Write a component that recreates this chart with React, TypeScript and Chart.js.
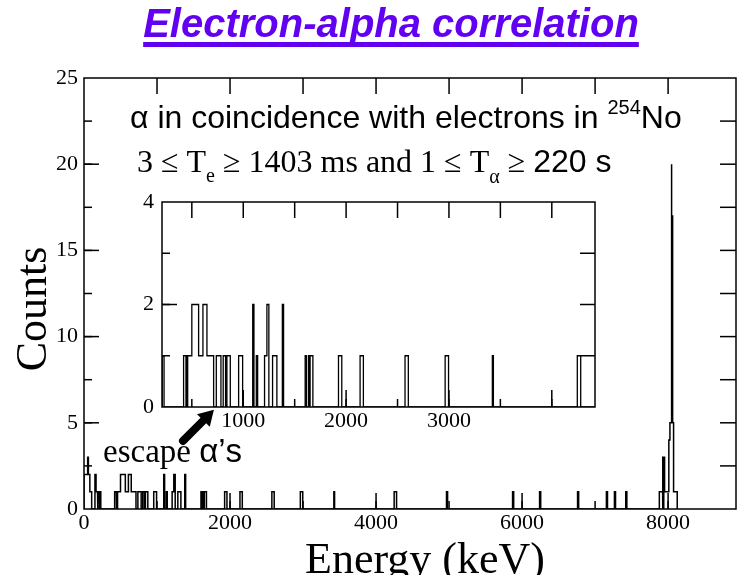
import { useEffect, useRef } from 'react';
import { Chart, registerables } from 'chart.js';

Chart.register(...registerables);

// ---- Data: histogram bins (keV) and their counts ----
const binLow = [
  0, 50, 60, 80, 150, 165, 190, 212,
  420, 448, 462, 500, 566, 608, 647, 738, 805, 841, 955,
  1092, 1127, 1207, 1230, 1285, 1380,
  1602, 1635, 1650, 1926, 2136, 2573, 2963, 3422, 4248,
  4965, 5870, 6240, 6760, 7155, 7265, 7420,
  7880, 7928, 7942, 7952, 8010, 8025, 8040, 8052, 8062, 8075,
];
const binHigh = [
  50, 60, 80, 105, 165, 185, 208, 230,
  443, 455, 500, 566, 608, 647, 712, 783, 828, 874, 994,
  1104, 1140, 1230, 1249, 1327, 1392,
  1615, 1645, 1677, 1958, 2168, 2605, 2996, 3432, 4281,
  4980, 5885, 6255, 6775, 7170, 7280, 7435,
  7925, 7938, 7952, 8010, 8025, 8040, 8052, 8062, 8075, 8125,
];
const binCount = [
  2, 3, 2, 1, 2, 1, 1, 1,
  1, 1, 1, 2, 1, 2, 1, 1, 1, 1, 1,
  2, 1, 1, 2, 1, 2,
  1, 1, 1, 1, 1, 1, 1, 1, 1,
  1, 1, 1, 1, 1, 1, 1,
  1, 3, 3, 1, 4, 5, 20, 17, 5, 1,
];

// ---- Tick labels ----
const mainXTicks = [0, 2000, 4000, 6000, 8000];
const mainYTicks = [0, 5, 10, 15, 20, 25];
const insetXTicks = [1000, 2000, 3000];
const insetYTicks = [0, 2, 4];

// ---- Annotation texts ----
const titleText = 'Electron-alpha correlation';
const yTitle = 'Counts';
const xTitle = 'Energy (keV)';
const escapeWord = 'escape ';
const escapeAlpha = 'α’s';

const SERIF = "'Liberation Serif', 'Times New Roman', serif";
const SANS = "'Liberation Sans', Arial, Helvetica, sans-serif";
const TITLE_COLOR = '#6200f2';

type Pt = { x: number; y: number };

function stepOutline(lo: number[], hi: number[], cnt: number[]): Pt[] {
  const pts: Pt[] = [];
  let prevEnd: number | null = null;
  for (let i = 0; i < lo.length; i++) {
    if (prevEnd === null || Math.abs(lo[i] - prevEnd) > 0.5) {
      if (prevEnd !== null) pts.push({ x: prevEnd, y: 0 });
      pts.push({ x: lo[i], y: 0 });
    }
    pts.push({ x: lo[i], y: cnt[i] });
    pts.push({ x: hi[i], y: cnt[i] });
    prevEnd = hi[i];
  }
  if (prevEnd !== null) pts.push({ x: prevEnd, y: 0 });
  return pts;
}

type TickSpec = [number, number][]; // [step, length]
type FrameSpec = { top: TickSpec; bottom: TickSpec; left: TickSpec; right: TickSpec };

function framePlugin(id: string, spec: FrameSpec) {
  return {
    id,
    afterDatasetsDraw(chart: any) {
      const { ctx, chartArea: a, scales } = chart;
      const xs = scales.x;
      const ys = scales.y;
      ctx.save();
      ctx.strokeStyle = '#000';
      ctx.lineWidth = 1.5;
      ctx.lineCap = 'butt';
      ctx.strokeRect(a.left, a.top, a.right - a.left, a.bottom - a.top);
      const eps = 1e-6;
      const hTicks = (marks: TickSpec, yEdge: number, dir: number) => {
        for (const [step, len] of marks) {
          for (let k = Math.ceil(xs.min / step); k * step <= xs.max + eps; k++) {
            const v = k * step;
            if (v <= xs.min + eps || v >= xs.max - eps) continue;
            const px = xs.getPixelForValue(v);
            ctx.beginPath();
            ctx.moveTo(px, yEdge);
            ctx.lineTo(px, yEdge + dir * len);
            ctx.stroke();
          }
        }
      };
      const vTicks = (marks: TickSpec, xEdge: number, dir: number) => {
        for (const [step, len] of marks) {
          for (let k = Math.ceil(ys.min / step); k * step <= ys.max + eps; k++) {
            const v = k * step;
            if (v <= ys.min + eps || v >= ys.max - eps) continue;
            const py = ys.getPixelForValue(v);
            ctx.beginPath();
            ctx.moveTo(xEdge, py);
            ctx.lineTo(xEdge + dir * len, py);
            ctx.stroke();
          }
        }
      };
      hTicks(spec.top, a.top, 1);
      hTicks(spec.bottom, a.bottom, -1);
      vTicks(spec.left, a.left, 1);
      vTicks(spec.right, a.right, -1);
      ctx.restore();
    },
  };
}

type Run = { text: string; font: string; dy?: number };
function drawRuns(ctx: CanvasRenderingContext2D, x: number, y: number, runs: Run[]) {
  let cx = x;
  for (const r of runs) {
    ctx.font = r.font;
    ctx.fillText(r.text, cx, y + (r.dy || 0));
    cx += ctx.measureText(r.text).width;
  }
}

const textPlugin = {
  id: 'texts',
  afterDraw(chart: any) {
    const ctx: CanvasRenderingContext2D = chart.ctx;
    const xs = chart.scales.x;
    const ys = chart.scales.y;
    ctx.save();
    // Title
    ctx.fillStyle = TITLE_COLOR;
    ctx.textAlign = 'center';
    ctx.textBaseline = 'alphabetic';
    ctx.font = `italic bold 40px ${SANS}`;
    ctx.fillText(titleText, 391, 37);
    const tw = ctx.measureText(titleText).width;
    ctx.fillRect(391 - tw / 2, 42, tw, 5);

    ctx.fillStyle = '#000';
    // Axis titles
    ctx.font = `44px ${SERIF}`;
    ctx.fillText(xTitle, 425, 573);
    ctx.save();
    ctx.translate(34, 309);
    ctx.rotate(-Math.PI / 2);
    ctx.textBaseline = 'middle';
    ctx.fillText(yTitle, 0, 0);
    ctx.restore();

    // Annotation lines
    ctx.textAlign = 'left';
    ctx.textBaseline = 'alphabetic';
    const big = `32px ${SANS}`;
    drawRuns(ctx, 130, 128, [
      { text: 'α in coincidence with electrons in ', font: big },
      { text: '254', font: `20px ${SANS}`, dy: -14 },
      { text: 'No', font: big },
    ]);
    const sf = `32px ${SERIF}`;
    const sub = `20px ${SERIF}`;
    drawRuns(ctx, 137, 172, [
      { text: '3 ≤ T', font: sf },
      { text: 'e', font: sub, dy: 10 },
      { text: ' ≥ 1403 ms and 1 ≤ T', font: sf },
      { text: 'α', font: sub, dy: 11 },
      { text: ' ≥ ', font: sf },
      { text: '220 s', font: big },
    ]);
    drawRuns(ctx, 103, 462, [
      { text: escapeWord, font: `33px ${SERIF}` },
      { text: escapeAlpha, font: `33px ${SANS}` },
    ]);

    // Arrow pointing to the escape alphas (data coordinates of the main chart)
    const x0 = xs.getPixelForValue(1356), y0 = ys.getPixelForValue(3.95);
    const x1 = xs.getPixelForValue(1780), y1 = ys.getPixelForValue(5.75);
    const ang = Math.atan2(y1 - y0, x1 - x0);
    const headLen = 15, headHalf = 9;
    const bx = x1 - headLen * Math.cos(ang), by = y1 - headLen * Math.sin(ang);
    ctx.strokeStyle = '#000';
    ctx.lineWidth = 8;
    ctx.lineCap = 'round';
    ctx.beginPath();
    ctx.moveTo(x0, y0);
    ctx.lineTo(bx, by);
    ctx.stroke();
    ctx.beginPath();
    ctx.moveTo(x1, y1);
    ctx.lineTo(bx + headHalf * Math.sin(ang), by - headHalf * Math.cos(ang));
    ctx.lineTo(bx - headHalf * Math.sin(ang), by + headHalf * Math.cos(ang));
    ctx.closePath();
    ctx.fill();
    ctx.restore();
  },
};

const tickFont = { family: SERIF, size: 22 };

export default function App() {
  const mainRef = useRef<HTMLCanvasElement | null>(null);
  const insetRef = useRef<HTMLCanvasElement | null>(null);

  useEffect(() => {
    const outline = stepOutline(binLow, binHigh, binCount);

    const main = new Chart(mainRef.current as HTMLCanvasElement, {
      type: 'line',
      data: {
        datasets: [
          {
            data: outline,
            borderColor: '#000',
            borderWidth: 1.5,
            pointRadius: 0,
            fill: false,
            tension: 0,
            borderJoinStyle: 'miter',
          },
        ],
      },
      options: {
        responsive: false,
        animation: false,
        devicePixelRatio: 1,
        events: [],
        layout: { padding: { top: 78, right: 1, left: 0, bottom: 0 } },
        plugins: { legend: { display: false }, tooltip: { enabled: false } },
        scales: {
          x: {
            type: 'linear',
            min: 0,
            max: 8930,
            grid: { display: false, drawTicks: false },
            border: { display: false },
            afterBuildTicks: (s: any) => {
              s.ticks = mainXTicks.map((v) => ({ value: v }));
            },
            afterFit: (s: any) => {
              s.height = 66;
            },
            ticks: {
              font: tickFont,
              color: '#000',
              padding: 1,
              maxRotation: 0,
              autoSkip: false,
              callback: (v: any) => String(v),
            },
          },
          y: {
            type: 'linear',
            min: 0,
            max: 25,
            grid: { display: false, drawTicks: false },
            border: { display: false },
            afterBuildTicks: (s: any) => {
              s.ticks = mainYTicks.map((v) => ({ value: v }));
            },
            afterFit: (s: any) => {
              s.width = 84;
            },
            ticks: {
              font: tickFont,
              color: '#000',
              padding: 6,
              callback: (v: any) => String(v),
            },
          },
        },
      } as any,
      plugins: [
        framePlugin('mainFrame', {
          top: [[1000, 16]],
          bottom: [[1000, 8], [2000, 16]],
          left: [[2.5, 8], [5, 15]],
          right: [[2.5, 16]],
        }),
        textPlugin,
      ],
    });

    const inset = new Chart(insetRef.current as HTMLCanvasElement, {
      type: 'line',
      data: {
        datasets: [
          {
            data: outline,
            borderColor: '#000',
            borderWidth: 1.3,
            pointRadius: 0,
            fill: false,
            tension: 0,
            borderJoinStyle: 'miter',
          },
        ],
      },
      options: {
        responsive: false,
        animation: false,
        devicePixelRatio: 1,
        events: [],
        layout: { padding: { top: 202, right: 142, left: 0, bottom: 0 } },
        plugins: { legend: { display: false }, tooltip: { enabled: false } },
        scales: {
          x: {
            type: 'linear',
            min: 210,
            max: 4420,
            grid: { display: false, drawTicks: false },
            border: { display: false },
            afterBuildTicks: (s: any) => {
              s.ticks = insetXTicks.map((v) => ({ value: v }));
            },
            afterFit: (s: any) => {
              s.height = 168;
            },
            ticks: {
              font: tickFont,
              color: '#000',
              padding: 1,
              maxRotation: 0,
              autoSkip: false,
              callback: (v: any) => String(v),
            },
          },
          y: {
            type: 'linear',
            min: 0,
            max: 4,
            grid: { display: false, drawTicks: false },
            border: { display: false },
            afterBuildTicks: (s: any) => {
              s.ticks = insetYTicks.map((v) => ({ value: v }));
            },
            afterFit: (s: any) => {
              s.width = 162;
            },
            ticks: {
              font: tickFont,
              color: '#000',
              padding: 8,
              callback: (v: any) => String(v),
            },
          },
        },
      } as any,
      plugins: [
        framePlugin('insetFrame', {
          top: [[500, 16]],
          bottom: [[500, 8], [1000, 17]],
          left: [[1, 8], [2, 15]],
          right: [[1, 15]],
        }),
      ],
    });

    return () => {
      main.destroy();
      inset.destroy();
    };
  }, []);

  return (
    <div style={{ position: 'absolute', left: 0, top: 0, width: 737, height: 575, background: '#fff' }}>
      <canvas ref={mainRef} width={737} height={575} style={{ position: 'absolute', left: 0, top: 0 }} />
      <canvas ref={insetRef} width={737} height={575} style={{ position: 'absolute', left: 0, top: 0 }} />
    </div>
  );
}
